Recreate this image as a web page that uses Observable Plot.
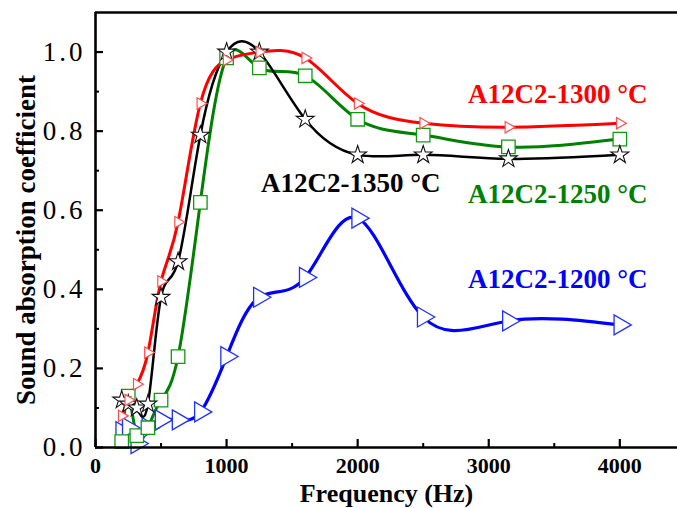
<!DOCTYPE html>
<html><head><meta charset="utf-8">
<script src="https://cdn.jsdelivr.net/npm/d3@7"></script>
<script src="https://cdn.jsdelivr.net/npm/@observablehq/plot@0.6"></script>
<style>body{margin:0;background:#fff}</style>
</head><body><div id="chart"></div>
<script>
// Data
const freq = [200, 250, 315, 400, 500, 630, 800, 1000, 1250, 1600, 2000, 2500, 3150, 4000];
const a1200 = [0.04, 0.05, 0.01, 0.05, 0.07, 0.07, 0.09, 0.23, 0.38, 0.43, 0.58, 0.33, 0.32, 0.31];
const a1250 = [0.015, 0.13, 0.03, 0.05, 0.12, 0.23, 0.62, 0.985, 0.96, 0.94, 0.83, 0.79, 0.76, 0.78];
const a1300 = [0.08, 0.12, 0.16, 0.24, 0.42, 0.57, 0.87, 0.98, 1.00, 0.985, 0.87, 0.82, 0.81, 0.82];
const a1350 = [0.12, 0.11, 0.10, 0.11, 0.38, 0.47, 0.79, 1.00, 1.00, 0.83, 0.74, 0.74, 0.73, 0.74];
const seriesNames = ["A12C2-1200 °C", "A12C2-1250 °C", "A12C2-1300 °C", "A12C2-1350 °C"];
const labelX = [3527, 3527, 3527, 1947];
const labelY = [0.424, 0.641, 0.894, 0.667];
const xMajor = [0, 1000, 2000, 3000, 4000];
const xMinor = [500, 1500, 2500, 3500];
const yMajor = [0, 0.2, 0.4, 0.6, 0.8, 1.0];
const yMinor = [0.1, 0.3, 0.5, 0.7, 0.9];
const xTitle = "Frequency (Hz)";
const yTitle = "Sound absorption coefficient";
const xDomain = [0, 4440];
const yDomain = [0, 1.1];

const rows = vals => freq.map((f, i) => ({f, v: vals[i]}));
const labels = seriesNames.map((name, i) => ({name, x: labelX[i], y: labelY[i]}));
const colors = ["#0000ff", "#008000", "#ff0000", "#000000"];
const serif = "Liberation Serif, Tinos, Times New Roman, Times, DejaVu Serif, Noto Serif, serif";

const chart = Plot.plot({
  width: 677, height: 508,
  marginLeft: 95, marginRight: 0, marginTop: 12, marginBottom: 61,
  style: {fontFamily: serif, background: "#fff"},
  x: {domain: xDomain},
  y: {domain: yDomain},
  marks: [
    Plot.line(rows(a1200), {x: "f", y: "v", stroke: colors[0], strokeWidth: 3.2, curve: "natural"}),
    Plot.line(rows(a1250), {x: "f", y: "v", stroke: colors[1], strokeWidth: 3, curve: "natural"}),
    Plot.line(rows(a1350), {x: "f", y: "v", stroke: colors[3], strokeWidth: 2.5, curve: "natural"}),
    Plot.line(rows(a1300), {x: "f", y: "v", stroke: colors[2], strokeWidth: 3, curve: "natural"}),
    Plot.dot(rows(a1200), {x: "f", y: "v", symbol: "triangle", rotate: 90, r: 7.4, stroke: "#2030ff", fill: "white", strokeWidth: 1.3}),
    Plot.dot(rows(a1250), {x: "f", y: "v", symbol: "square", r: 7.6, stroke: "#109a10", fill: "white", strokeWidth: 1.3}),
    Plot.dot(rows(a1350), {x: "f", y: "v", symbol: "star", r: 5.6, stroke: "#111", fill: "white", strokeWidth: 1.1}),
    Plot.dot(rows(a1300), {x: "f", y: "v", symbol: "triangle", rotate: 90, r: 4.2, stroke: "#ff5050", fill: "white", strokeWidth: 1.2}),
    Plot.ruleX([xDomain[0]], {stroke: "#000", strokeWidth: 2.6}),
    Plot.ruleY([yDomain[0]], {stroke: "#000", strokeWidth: 2.6}),
    Plot.ruleY([yDomain[1]], {stroke: "#000", strokeWidth: 2.6}),
    Plot.axisX(xMajor, {tickSize: -8, tickPadding: 18, strokeWidth: 2.2, fontSize: 22, fontWeight: "bold", fontFamily: serif, tickFormat: d => String(d), label: null}),
    Plot.axisX(xMinor, {tickSize: -4, strokeWidth: 2, tickFormat: () => "", label: null}),
    Plot.axisY(yMajor, {tickSize: -8, tickPadding: 18, strokeWidth: 2.2, fontSize: 27, fontFamily: serif, tickFormat: d => d.toFixed(1), label: null}),
    Plot.axisY(yMinor, {tickSize: -4, strokeWidth: 2, tickFormat: () => "", label: null}),
    Plot.text(labels, {x: "x", y: "y", text: "name", fill: (d, i) => colors[i], fontSize: 27, fontWeight: "bold", fontFamily: serif, textAnchor: "middle"}),
    Plot.text([xTitle], {frameAnchor: "bottom", dy: 46, lineAnchor: "middle", textAnchor: "middle", text: d => d, fontSize: 26, fontWeight: "bold", fontFamily: serif, fill: "#000"}),
    Plot.text([yTitle], {frameAnchor: "left", rotate: -90, dx: -69, dy: 10, lineAnchor: "middle", textAnchor: "middle", text: d => d, fontSize: 27, fontWeight: "bold", fontFamily: serif, fill: "#000"})
  ]
});
d3.select(chart).selectAll("text").style("font-family", serif);
d3.select(chart).selectAll("g[aria-label='y-axis tick label'] text").attr("letter-spacing", "3px");
document.getElementById("chart").appendChild(chart);
</script>
</body></html>
